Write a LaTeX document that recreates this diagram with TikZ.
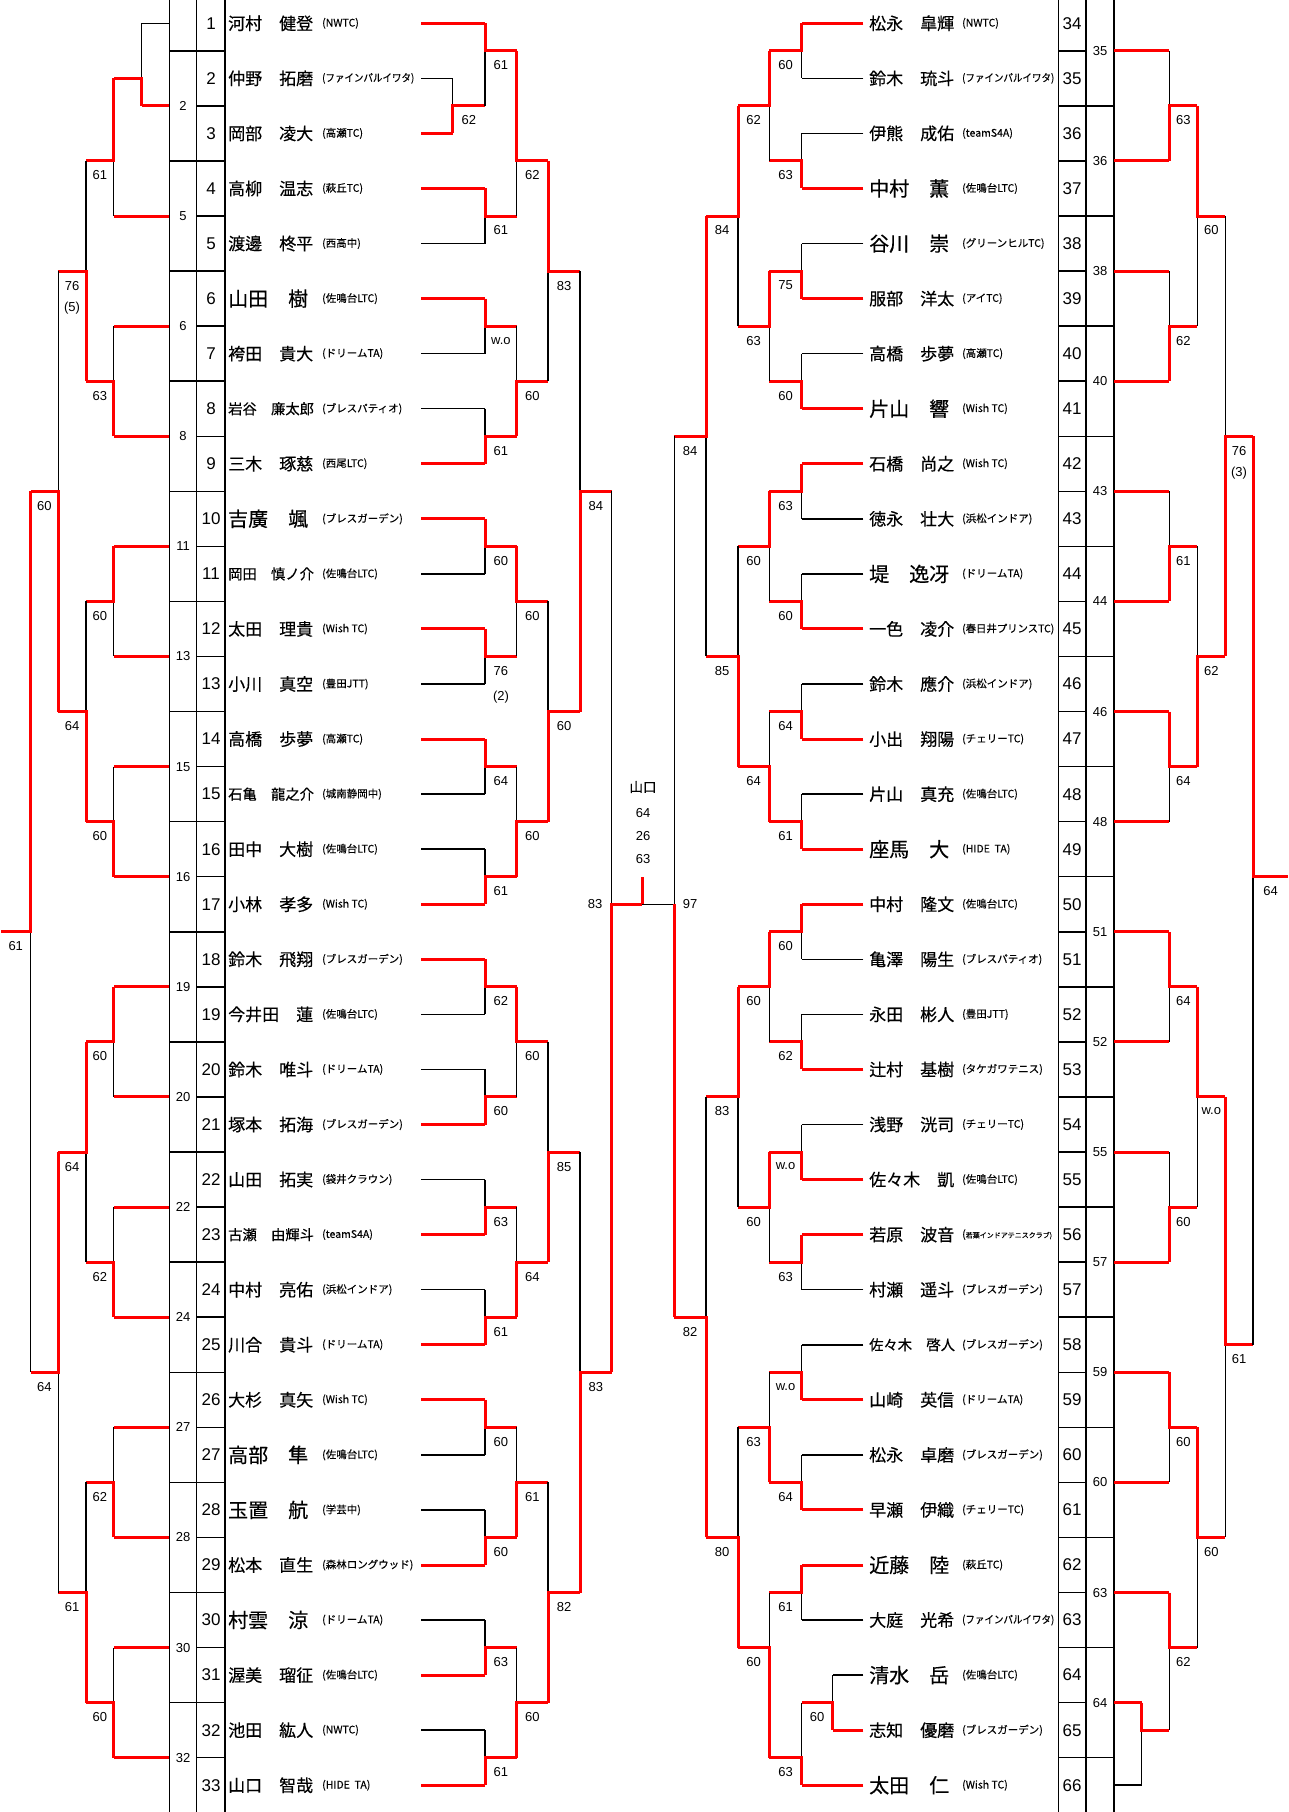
\documentclass[tikz,border=0pt]{standalone}
\usepackage{fontspec}
\usepackage{graphicx}
\setmainfont{Liberation Sans}
\newfontfamily\jp{Noto Sans CJK JP}[FakeBold=0.35]
\newfontfamily\jpc{Noto Sans CJK JP}[FakeBold=0.2]
\pgfmathdeclarefunction{yj}{1}{\pgfmathparse{23.3+27.53*#1}}
\newsavebox\cbox
\newcommand\club[1]{\sbox\cbox{(#1)}\ifdim\wd\cbox>92pt\resizebox{92pt}{\height}{\usebox\cbox}\else\usebox\cbox\fi}
\tikzset{
 bk/.style={line width=1.5pt,black},
 rd/.style={line width=3pt,red},
 nm/.style={font=\jp\fontsize{17pt}{17pt}\selectfont,inner sep=0pt,anchor=west},
 nmb/.style={font=\jp\fontsize{20pt}{20pt}\selectfont,inner sep=0pt,anchor=west},
 nms/.style={font=\jp\fontsize{14.3pt}{14.3pt}\selectfont,inner sep=0pt,anchor=west},
 cl/.style={font=\jpc\fontsize{10.5pt}{10.5pt}\selectfont,inner sep=0pt,anchor=west},
 num/.style={font=\fontsize{17pt}{17pt}\selectfont,inner sep=0pt},
 bxl/.style={font=\fontsize{13pt}{13pt}\selectfont,inner sep=0pt},
 sc/.style={font=\fontsize{13pt}{13pt}\selectfont,inner sep=0pt},
}
% match: x, xnext, jA, jB, jOut, jWinner, label
\newcommand\mt[7]{%
 \draw[bk] (#1,{yj(#3)}) -- (#1,{yj(#4)});
 \draw[rd] (#1,{yj(#6)}) -- (#1,{yj(#5)}) -- (#2,{yj(#5)});
 \node[sc] at ({(#1+#2)/2},{yj(#5)+14.5}) {#7};}
\newcommand\lrow[4]{%
 \pgfmathsetmacro\jj{2*(#1-1)}%
 \node[#2] (L#1) at (228,{yj(\jj)}) {#3};
 \node[cl] (LC#1) at (322,{yj(\jj)}) {\club{#4}};
 \node[num] (LN#1) at (211,{yj(\jj)}) {#1};}
\newcommand\rrow[4]{%
 \pgfmathsetmacro\jj{2*(#1-34)}%
 \node[#2] (R#1) at (869,{yj(\jj)}) {#3};
 \node[cl] (RC#1) at (962,{yj(\jj)}) {\club{#4}};
 \node[num] (RN#1) at (1072,{yj(\jj)}) {#1};}
\begin{document}
\begin{tikzpicture}[x=1pt,y=-1pt]
\useasboundingbox (0,0) rectangle (1288,1812);
\fill[white] (0,0) rectangle (1288,1812);
% ---------- grid columns
\foreach \x in {169.3,196.7,225,1058.3,1086,1114} \draw[bk] (\x,0) -- (\x,1812);
\foreach \j in {1,3,...,63} {\draw[bk] (196.7,{yj(\j)}) -- (225,{yj(\j)}); \draw[bk] (1058.3,{yj(\j)}) -- (1086,{yj(\j)});}
\foreach \j in {1,5,...,61} \draw[bk] (169.3,{yj(\j)}) -- (196.7,{yj(\j)});
\foreach \j in {3,7,...,63} \draw[bk] (1086,{yj(\j)}) -- (1114,{yj(\j)});
\foreach \j/\t in {3/2,7/5,11/6,15/8,19/11,23/13,27/15,31/16,35/19,39/20,43/22,47/24,51/27,55/28,59/30,63/32}
  \node[bxl] at (183,{yj(\j)}) {\t};
\foreach \j/\t in {1/35,5/36,9/38,13/40,17/43,21/44,25/46,29/48,33/51,37/52,41/55,45/57,49/59,53/60,57/63,61/64}
  \node[bxl] at (1100,{yj(\j)}) {\t};
% ---------- left players
\lrow{1}{nm}{河村　健登}{NWTC}
\lrow{2}{nm}{仲野　拓磨}{ファインパルイワタ}
\lrow{3}{nm}{岡部　凌大}{高瀬TC}
\lrow{4}{nm}{高柳　温志}{萩丘TC}
\lrow{5}{nm}{渡邊　柊平}{西高中}
\lrow{6}{nmb}{山田　樹}{佐鳴台LTC}
\lrow{7}{nm}{袴田　貴大}{ドリームTA}
\lrow{8}{nms}{岩谷　廉太郎}{ブレスパティオ}
\lrow{9}{nm}{三木　琢慈}{西尾LTC}
\lrow{10}{nmb}{吉廣　颯}{ブレスガーデン}
\lrow{11}{nms}{岡田　慎ノ介}{佐鳴台LTC}
\lrow{12}{nm}{太田　理貴}{Wish TC}
\lrow{13}{nm}{小川　真空}{豊田JTT}
\lrow{14}{nm}{高橋　歩夢}{高瀬TC}
\lrow{15}{nms}{石亀　龍之介}{城南静岡中}
\lrow{16}{nm}{田中　大樹}{佐鳴台LTC}
\lrow{17}{nm}{小林　孝多}{Wish TC}
\lrow{18}{nm}{鈴木　飛翔}{ブレスガーデン}
\lrow{19}{nm}{今井田　蓮}{佐鳴台LTC}
\lrow{20}{nm}{鈴木　唯斗}{ドリームTA}
\lrow{21}{nm}{塚本　拓海}{ブレスガーデン}
\lrow{22}{nm}{山田　拓実}{袋井クラウン}
\lrow{23}{nms}{古瀬　由輝斗}{teamS4A}
\lrow{24}{nm}{中村　亮佑}{浜松インドア}
\lrow{25}{nm}{川合　貴斗}{ドリームTA}
\lrow{26}{nm}{大杉　真矢}{Wish TC}
\lrow{27}{nmb}{高部　隼}{佐鳴台LTC}
\lrow{28}{nmb}{玉置　航}{学芸中}
\lrow{29}{nm}{松本　直生}{森林ロングウッド}
\lrow{30}{nmb}{村雲　涼}{ドリームTA}
\lrow{31}{nm}{渥美　瑠征}{佐鳴台LTC}
\lrow{32}{nm}{池田　紘人}{NWTC}
\lrow{33}{nm}{山口　智哉}{HIDE\ \ TA}
% ---------- right players
\rrow{34}{nm}{松永　皐輝}{NWTC}
\rrow{35}{nm}{鈴木　琉斗}{ファインパルイワタ}
\rrow{36}{nm}{伊熊　成佑}{teamS4A}
\rrow{37}{nmb}{中村　薫}{佐鳴台LTC}
\rrow{38}{nmb}{谷川　崇}{グリーンヒルTC}
\rrow{39}{nm}{服部　洋太}{アイTC}
\rrow{40}{nm}{高橋　歩夢}{高瀬TC}
\rrow{41}{nmb}{片山　響}{Wish TC}
\rrow{42}{nm}{石橋　尚之}{Wish TC}
\rrow{43}{nm}{徳永　壮大}{浜松インドア}
\rrow{44}{nmb}{堤　逸冴}{ドリームTA}
\rrow{45}{nm}{一色　凌介}{春日井プリンスTC}
\rrow{46}{nm}{鈴木　應介}{浜松インドア}
\rrow{47}{nm}{小出　翔陽}{チェリーTC}
\rrow{48}{nm}{片山　真充}{佐鳴台LTC}
\rrow{49}{nmb}{座馬　大}{HIDE\ \ TA}
\rrow{50}{nm}{中村　隆文}{佐鳴台LTC}
\rrow{51}{nm}{亀澤　陽生}{ブレスパティオ}
\rrow{52}{nm}{永田　彬人}{豊田JTT}
\rrow{53}{nm}{辻村　基樹}{タケガワテニス}
\rrow{54}{nm}{浅野　洸司}{チェリーTC}
\rrow{55}{nm}{佐々木　凱}{佐鳴台LTC}
\rrow{56}{nm}{若原　波音}{\fontsize{7pt}{7pt}\selectfont 若葉インドアテニスクラブ}
\rrow{57}{nm}{村瀬　遥斗}{ブレスガーデン}
\rrow{58}{nms}{佐々木　啓人}{ブレスガーデン}
\rrow{59}{nm}{山崎　英信}{ドリームTA}
\rrow{60}{nm}{松永　卓磨}{ブレスガーデン}
\rrow{61}{nm}{早瀬　伊織}{チェリーTC}
\rrow{62}{nmb}{近藤　陸}{萩丘TC}
\rrow{63}{nm}{大庭　光希}{ファインパルイワタ}
\rrow{64}{nmb}{清水　岳}{佐鳴台LTC}
\rrow{65}{nm}{志知　優磨}{ブレスガーデン}
\rrow{66}{nmb}{太田　仁}{Wish TC}
% ---------- left inner entries
\foreach \k in {5,7,8,11,13,15,16,19,20,22,24,27,28,30,32} \draw[bk] (421,{yj(2*(\k-1))}) -- (485,{yj(2*(\k-1))});
\foreach \k in {1,4,6,9,10,12,14,17,18,21,23,25,26,29,31,33} \draw[rd] (421,{yj(2*(\k-1))}) -- (485,{yj(2*(\k-1))});
\draw[bk] (421,{yj(2)}) -- (452.7,{yj(2)});
\draw[rd] (421,{yj(4)}) -- (452.7,{yj(4)});
% left inner matches
\mt{452.7}{485}{2}{4}{3}{4}{62}
\mt{485}{516.7}{0}{3}{1}{0}{61}
\mt{485}{516.7}{6}{8}{7}{6}{61}
\mt{485}{516.7}{10}{12}{11}{10}{w.o}
\mt{485}{516.7}{14}{16}{15}{16}{61}
\mt{485}{516.7}{18}{20}{19}{18}{60}
\mt{485}{516.7}{22}{24}{23}{22}{76}
\node[sc] at (501,{yj(23)+41}) {(2)};
\mt{485}{516.7}{26}{28}{27}{26}{64}
\mt{485}{516.7}{30}{32}{31}{32}{61}
\mt{485}{516.7}{34}{36}{35}{34}{62}
\mt{485}{516.7}{38}{40}{39}{40}{60}
\mt{485}{516.7}{42}{44}{43}{44}{63}
\mt{485}{516.7}{46}{48}{47}{48}{61}
\mt{485}{516.7}{50}{52}{51}{50}{60}
\mt{485}{516.7}{54}{56}{55}{56}{60}
\mt{485}{516.7}{58}{60}{59}{60}{63}
\mt{485}{516.7}{62}{64}{63}{64}{61}
\mt{516.7}{548}{1}{7}{5}{1}{62}
\mt{516.7}{548}{11}{15}{13}{15}{60}
\mt{516.7}{548}{19}{23}{21}{19}{60}
\mt{516.7}{548}{27}{31}{29}{31}{60}
\mt{516.7}{548}{35}{39}{37}{35}{60}
\mt{516.7}{548}{43}{47}{45}{47}{64}
\mt{516.7}{548}{51}{55}{53}{55}{61}
\mt{516.7}{548}{59}{63}{61}{63}{60}
\mt{548}{580}{5}{13}{9}{5}{83}
\mt{548}{580}{21}{29}{25}{29}{60}
\mt{548}{580}{37}{45}{41}{45}{85}
\mt{548}{580}{53}{61}{57}{61}{82}
\mt{580}{611.7}{9}{25}{17}{25}{84}
\mt{580}{611.7}{41}{57}{49}{57}{83}
\mt{611.7}{642}{17}{49}{32}{49}{}
% ---------- right inner entries
\foreach \k in {35,36,38,40,43,44,46,48,51,52,54,57,58,60,63} \draw[bk] (863.3,{yj(2*(\k-34))}) -- (801.7,{yj(2*(\k-34))});
\foreach \k in {34,37,39,41,42,45,47,49,50,53,55,56,59,61,62,66} \draw[rd] (863.3,{yj(2*(\k-34))}) -- (801.7,{yj(2*(\k-34))});
\draw[bk] (863.3,{yj(60)}) -- (832.7,{yj(60)});
\draw[rd] (863.3,{yj(62)}) -- (832.7,{yj(62)});
\mt{832.7}{801.7}{60}{62}{61}{62}{60}
\mt{801.7}{769.3}{0}{2}{1}{0}{60}
\mt{801.7}{769.3}{4}{6}{5}{6}{63}
\mt{801.7}{769.3}{8}{10}{9}{10}{75}
\mt{801.7}{769.3}{12}{14}{13}{14}{60}
\mt{801.7}{769.3}{16}{18}{17}{16}{63}
\mt{801.7}{769.3}{20}{22}{21}{22}{60}
\mt{801.7}{769.3}{24}{26}{25}{26}{64}
\mt{801.7}{769.3}{28}{30}{29}{30}{61}
\mt{801.7}{769.3}{32}{34}{33}{32}{60}
\mt{801.7}{769.3}{36}{38}{37}{38}{62}
\mt{801.7}{769.3}{40}{42}{41}{42}{w.o}
\mt{801.7}{769.3}{44}{46}{45}{44}{63}
\mt{801.7}{769.3}{48}{50}{49}{50}{w.o}
\mt{801.7}{769.3}{52}{54}{53}{54}{64}
\mt{801.7}{769.3}{56}{58}{57}{56}{61}
\mt{801.7}{769.3}{61}{64}{63}{64}{63}
\mt{769.3}{738}{1}{5}{3}{1}{62}
\mt{769.3}{738}{9}{13}{11}{9}{63}
\mt{769.3}{738}{17}{21}{19}{17}{60}
\mt{769.3}{738}{25}{29}{27}{29}{64}
\mt{769.3}{738}{33}{37}{35}{33}{60}
\mt{769.3}{738}{41}{45}{43}{41}{60}
\mt{769.3}{738}{49}{53}{51}{53}{63}
\mt{769.3}{738}{57}{63}{59}{63}{60}
\mt{738}{706}{3}{11}{7}{3}{84}
\mt{738}{706}{19}{27}{23}{27}{85}
\mt{738}{706}{35}{43}{39}{35}{83}
\mt{738}{706}{51}{59}{55}{59}{80}
\mt{706}{674.3}{7}{23}{15}{7}{84}
\mt{706}{674.3}{39}{55}{47}{55}{82}
\draw[bk] (674.3,{yj(15)}) -- (674.3,{yj(47)});
\draw[bk] (642,{yj(32)}) -- (674.3,{yj(32)});
\draw[rd] (674.3,{yj(47)}) -- (674.3,{yj(32)});
\draw[rd] (642,{yj(32)}) -- (642,877.3);
% centre
\node[sc] at (595,{yj(32)}) {83};
\node[sc] at (690,{yj(32)}) {97};
\node[font=\jp\fontsize{13.5pt}{13.5pt}\selectfont,inner sep=0pt] (champ) at (643,787) {山口};
\node[sc] at (643,813) {64};
\node[sc] at (643,836) {26};
\node[sc] at (643,859) {63};
% ---------- left outer
\draw[bk] (169.3,{yj(0)}) -- (141.7,{yj(0)});
\draw[rd] (169.3,{yj(3)}) -- (141.7,{yj(3)});
\foreach \j in {7,11,...,63} \draw[rd] (169.3,{yj(\j)}) -- (113.7,{yj(\j)});
\mt{141.7}{113.7}{0}{3}{2}{3}{}
\mt{113.7}{86}{2}{7}{5}{2}{61}
\mt{113.7}{86}{11}{15}{13}{15}{63}
\mt{113.7}{86}{19}{23}{21}{19}{60}
\mt{113.7}{86}{27}{31}{29}{31}{60}
\mt{113.7}{86}{35}{39}{37}{35}{60}
\mt{113.7}{86}{43}{47}{45}{47}{62}
\mt{113.7}{86}{51}{55}{53}{55}{62}
\mt{113.7}{86}{59}{63}{61}{63}{60}
\mt{86}{58.3}{5}{13}{9}{13}{76}
\node[sc] at (72,{yj(9)+37}) {(5)};
\mt{86}{58.3}{21}{29}{25}{29}{64}
\mt{86}{58.3}{37}{45}{41}{37}{64}
\mt{86}{58.3}{53}{61}{57}{61}{61}
\mt{58.3}{30.5}{9}{25}{17}{25}{60}
\mt{58.3}{30.5}{41}{57}{49}{41}{64}
\mt{30.5}{1}{17}{49}{33}{17}{61}
% ---------- right outer
\foreach \j in {1,5,...,57} \draw[rd] (1114,{yj(\j)}) -- (1169.3,{yj(\j)});
\draw[rd] (1114,{yj(61)}) -- (1141.7,{yj(61)});
\draw[bk] (1114,{yj(64)}) -- (1141.7,{yj(64)});
\mt{1141.7}{1169.3}{61}{64}{62}{61}{}
\mt{1169.3}{1197.3}{1}{5}{3}{5}{63}
\mt{1169.3}{1197.3}{9}{13}{11}{13}{62}
\mt{1169.3}{1197.3}{17}{21}{19}{21}{61}
\mt{1169.3}{1197.3}{25}{29}{27}{25}{64}
\mt{1169.3}{1197.3}{33}{37}{35}{33}{64}
\mt{1169.3}{1197.3}{41}{45}{43}{45}{60}
\mt{1169.3}{1197.3}{49}{53}{51}{49}{60}
\mt{1169.3}{1197.3}{57}{62}{59}{57}{62}
\mt{1197.3}{1225.3}{3}{11}{7}{3}{60}
\mt{1197.3}{1225.3}{19}{27}{23}{27}{62}
\mt{1197.3}{1225.3}{35}{43}{39}{35}{w.o}
\mt{1197.3}{1225.3}{51}{59}{55}{51}{60}
\mt{1225.3}{1253}{7}{23}{15}{23}{76}
\node[sc] at (1239,{yj(15)+37}) {(3)};
\mt{1225.3}{1253}{39}{55}{48}{39}{61}
\mt{1253}{1288}{15}{48}{31}{15}{64}
\end{tikzpicture}
\end{document}
